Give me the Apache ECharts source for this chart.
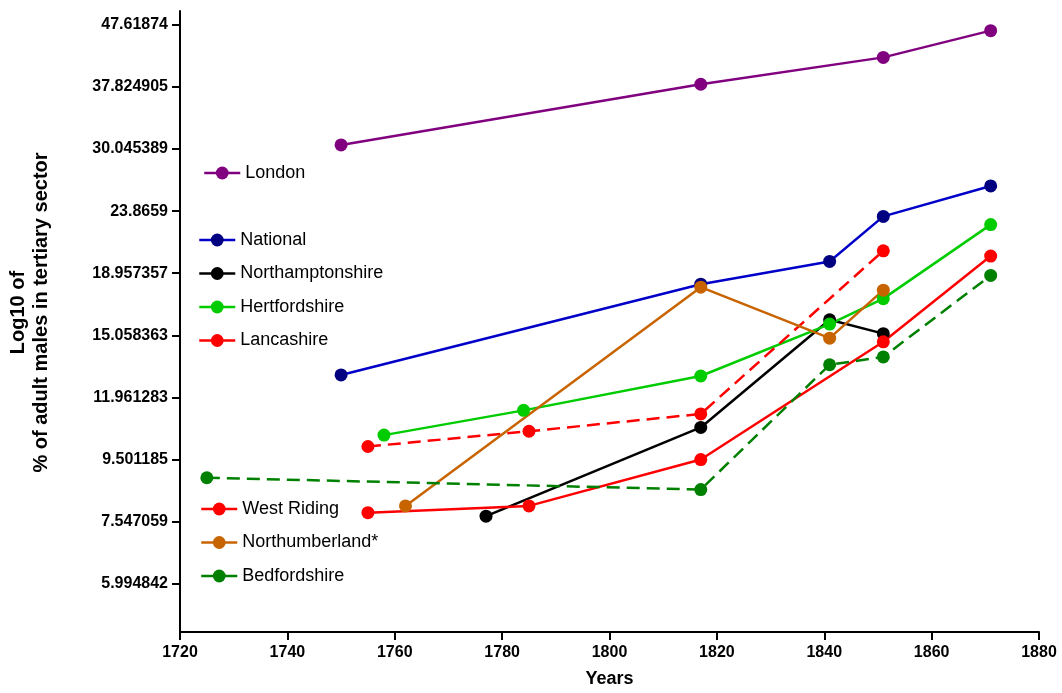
<!DOCTYPE html>
<html>
<head>
<meta charset="utf-8">
<script src="https://cdn.jsdelivr.net/npm/echarts@6/dist/echarts.min.js"></script>
<style>
html,body{margin:0;padding:0;background:#fff;}
#chart{width:1062px;height:693px;}
</style>
</head>
<body>
<div id="chart"></div>
<script>
// ---- data (percent of adult males in tertiary sector) ----
const xTicks = [1720, 1740, 1760, 1780, 1800, 1820, 1840, 1860, 1880];
const yTickLabels = ['5.994842', '7.547059', '9.501185', '11.961283', '15.058363',
  '18.957357', '23.8659', '30.045389', '37.824905', '47.61874'];

const londonYears = [1750, 1817, 1851, 1871];
const londonPct = [30.5, 38.2, 42.2, 46.6];

const nationalYears = [1750, 1817, 1841, 1851, 1871];
const nationalPct = [13.0, 18.2, 19.8, 23.4, 26.2];

const northantsYears = [1777, 1817, 1841, 1851];
const northantsPct = [7.7, 10.7, 15.95, 15.15];

const hertsYears = [1758, 1784, 1817, 1841, 1851, 1871];
const hertsPct = [10.4, 11.4, 12.95, 15.7, 17.25, 22.7];

const lancsYears = [1755, 1785, 1817, 1851];
const lancsPct = [9.97, 10.55, 11.25, 20.6];

const westRidingYears = [1755, 1785, 1817, 1851, 1871];
const westRidingPct = [7.8, 8.0, 9.5, 14.7, 20.2];

const northumbYears = [1762, 1817, 1841, 1851];
const northumbPct = [8.0, 18.0, 14.9, 17.8];

const bedsYears = [1725, 1817, 1841, 1851, 1871];
const bedsPct = [8.88, 8.5, 13.5, 13.9, 18.8];

// ---- chart ----
const FONT = '"Liberation Sans", Arial, sans-serif';
const yTickValues = yTickLabels.map(s => Math.log10(parseFloat(s)));

function pairs(xs, ys) {
  return xs.map((x, i) => [x, Math.log10(ys[i])]);
}
function mkSeries(name, xs, ys, lineColor, markColor, dashed) {
  return {
    name: name,
    type: 'line',
    data: pairs(xs, ys),
    symbol: 'circle',
    symbolSize: 13,
    showSymbol: true,
    lineStyle: {color: lineColor, width: 2.5, type: dashed ? [13, 7] : 'solid'},
    itemStyle: {color: markColor},
    emphasis: {disabled: true},
    z: 2
  };
}

const legendCommon = {
  orient: 'vertical',
  padding: 0,
  itemWidth: 36,
  itemHeight: 16,
  itemGap: 15.5,
  selectedMode: false,
  lineStyle: {type: 'solid', width: 2.5},
  textStyle: {fontFamily: FONT, fontSize: 18, color: '#000'}
};

const option = {
  animation: false,
  backgroundColor: '#fff',
  grid: {left: 180, right: 23, top: 11, bottom: 61, containLabel: false, outerBoundsMode: 'none'},
  legend: [
    Object.assign({}, legendCommon, {data: ['London'], left: 203, top: 164}),
    Object.assign({}, legendCommon, {data: ['National', 'Northamptonshire', 'Hertfordshire', 'Lancashire'], left: 198, top: 231}),
    Object.assign({}, legendCommon, {data: ['West Riding', 'Northumberland*', 'Bedfordshire'], left: 200, top: 500})
  ],
  xAxis: {
    type: 'value',
    min: 1720,
    max: 1880,
    interval: 20,
    name: 'Years',
    nameLocation: 'middle',
    nameGap: 38,
    nameTextStyle: {fontFamily: FONT, fontSize: 18, fontWeight: 'bold', color: '#000'},
    axisLine: {lineStyle: {color: '#000', width: 2}},
    axisTick: {show: true, length: 8, lineStyle: {color: '#000', width: 2}, customValues: xTicks},
    axisLabel: {fontFamily: FONT, fontSize: 16, fontWeight: 'bold', color: '#000', margin: 13,
      customValues: xTicks,
      formatter: function (v) { return String(Math.round(v)); }},
    splitLine: {show: false}
  },
  yAxis: {
    type: 'value',
    min: 0.7,
    max: 1.7,
    name: 'Log10 of\n% of adult males in tertiary sector',
    nameLocation: 'middle',
    nameGap: 127,
    nameTextStyle: {fontFamily: FONT, fontSize: 20, fontWeight: 'bold', color: '#000', lineHeight: 23,
      align: 'center', padding: [0, 0, 0, 18]},
    axisLine: {show: true, lineStyle: {color: '#000', width: 2}},
    axisTick: {show: true, length: 8, lineStyle: {color: '#000', width: 2}, customValues: yTickValues},
    axisLabel: {
      fontFamily: FONT, fontSize: 16, fontWeight: 'bold', color: '#000', margin: 12,
      customValues: yTickValues,
      formatter: function (v) {
        let best = 0, bd = Infinity;
        yTickValues.forEach((t, i) => { const d = Math.abs(t - v); if (d < bd) { bd = d; best = i; } });
        return yTickLabels[best];
      }
    },
    splitLine: {show: false}
  },
  series: [
    mkSeries('London', londonYears, londonPct, '#800080', '#800080', false),
    mkSeries('National', nationalYears, nationalPct, '#0000c8', '#000080', false),
    mkSeries('Northamptonshire', northantsYears, northantsPct, '#000000', '#000000', false),
    mkSeries('Hertfordshire', hertsYears, hertsPct, '#00cc00', '#00cc00', false),
    mkSeries('Lancashire', lancsYears, lancsPct, '#ff0000', '#ff0000', true),
    mkSeries('West Riding', westRidingYears, westRidingPct, '#ff0000', '#ff0000', false),
    mkSeries('Northumberland*', northumbYears, northumbPct, '#c86400', '#c86400', false),
    mkSeries('Bedfordshire', bedsYears, bedsPct, '#008000', '#008000', true)
  ]
};

const chart = echarts.init(document.getElementById('chart'), null, {renderer: 'canvas'});
chart.setOption(option);
</script>
</body>
</html>
